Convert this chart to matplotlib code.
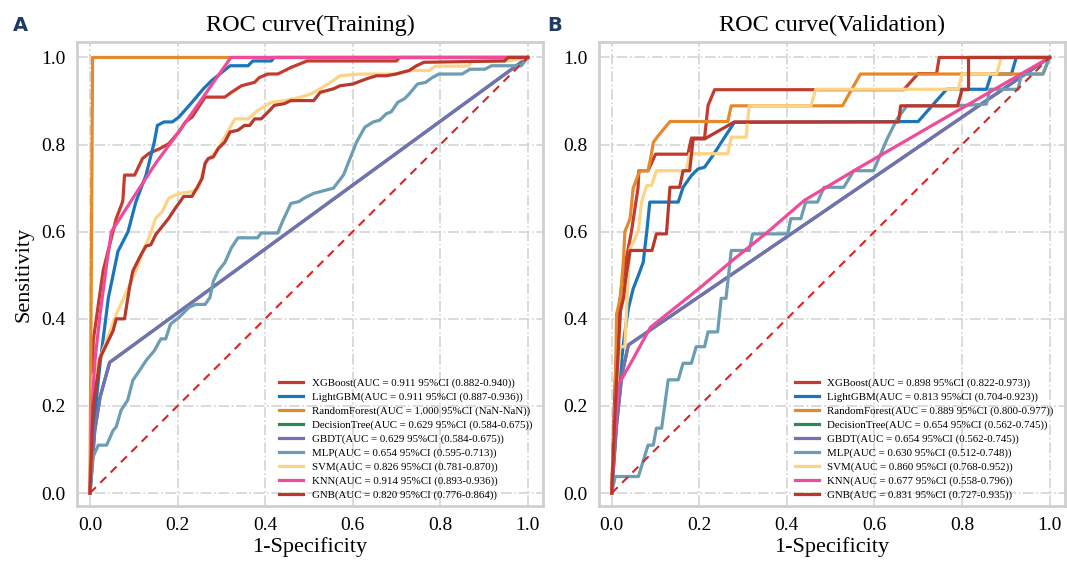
import numpy as np
import matplotlib
matplotlib.use("Agg")
import matplotlib.pyplot as plt

plt.rcParams['font.family'] = ['Liberation Serif', 'DejaVu Serif']

# ================= DATA =================

models = ["XGBoost", "LightGBM", "RandomForest", "DecisionTree", "GBDT",
          "MLP", "SVM", "KNN", "GNB"]
colors = ["#c43c2f", "#1a75bb", "#e58a2b", "#2a8a4f", "#7570b3",
          "#6b9db3", "#fdd385", "#ee4c9a", "#b8392b"]

train_auc = ["0.911 95%CI (0.882-0.940)", "0.911 95%CI (0.887-0.936)",
             "1.000 95%CI (NaN-NaN)", "0.629 95%CI (0.584-0.675)",
             "0.629 95%CI (0.584-0.675)", "0.654 95%CI (0.595-0.713)",
             "0.826 95%CI (0.781-0.870)", "0.914 95%CI (0.893-0.936)",
             "0.820 95%CI (0.776-0.864)"]
val_auc = ["0.898 95%CI (0.822-0.973)", "0.813 95%CI (0.704-0.923)",
           "0.889 95%CI (0.800-0.977)", "0.654 95%CI (0.562-0.745)",
           "0.654 95%CI (0.562-0.745)", "0.630 95%CI (0.512-0.748)",
           "0.860 95%CI (0.768-0.952)", "0.677 95%CI (0.558-0.796)",
           "0.831 95%CI (0.727-0.935)"]

# ---- training curves (fpr, tpr) ----
tr_xgb_x = [0, 0.0075, 0.03, 0.06, 0.075, 0.079, 0.102, 0.12, 0.135, 0.158, 0.18, 0.203, 0.218,
            0.233, 0.263, 0.308, 0.323, 0.346, 0.376, 0.387, 0.406, 0.429, 0.459, 0.496, 0.70, 0.707, 1]
tr_xgb_y = [0, 0.35, 0.51, 0.63, 0.67, 0.73, 0.73, 0.768, 0.78, 0.79, 0.802, 0.829, 0.852,
            0.863, 0.909, 0.909, 0.92, 0.935, 0.943, 0.954, 0.962, 0.962, 0.977, 0.992, 0.992, 1, 1]

tr_lgb_x = [0, 0.0075, 0.023, 0.042, 0.064, 0.087, 0.105, 0.128, 0.147, 0.154, 0.169, 0.188, 0.203,
            0.233, 0.259, 0.278, 0.32, 0.361, 0.372, 0.414, 0.421, 1]
tr_lgb_y = [0, 0.144, 0.297, 0.448, 0.555, 0.60, 0.669, 0.73, 0.806, 0.844, 0.852, 0.852, 0.863,
            0.897, 0.928, 0.947, 0.981, 0.981, 0.992, 0.992, 1, 1]

tr_rf_x = [0, 0.006, 1]
tr_rf_y = [0, 1, 1]

tr_dt_x = [0, 0.011, 0.023, 0.045, 1]
tr_dt_y = [0, 0.144, 0.22, 0.30, 1]

tr_gbdt_x = [0, 0.011, 0.023, 0.045, 1]
tr_gbdt_y = [0, 0.144, 0.22, 0.30, 1]

tr_mlp_x = [0, 0.0075, 0.019, 0.038, 0.053, 0.06, 0.071, 0.086, 0.098, 0.113, 0.128, 0.147, 0.162,
            0.173, 0.184, 0.203, 0.226, 0.241, 0.263, 0.274, 0.282, 0.293, 0.308, 0.323, 0.338,
            0.383, 0.391, 0.429, 0.44, 0.459, 0.477, 0.489, 0.511, 0.556, 0.579, 0.594, 0.609,
            0.628, 0.647, 0.662, 0.677, 0.688, 0.703, 0.718, 0.729, 0.748, 0.767, 0.782, 0.797,
            0.85, 0.868, 0.902, 0.917, 0.985, 1]
tr_mlp_y = [0, 0.084, 0.11, 0.11, 0.144, 0.152, 0.19, 0.213, 0.259, 0.281, 0.304, 0.327, 0.354,
            0.354, 0.388, 0.403, 0.426, 0.433, 0.433, 0.449, 0.487, 0.51, 0.529, 0.563, 0.586,
            0.586, 0.597, 0.597, 0.624, 0.665, 0.669, 0.677, 0.688, 0.70, 0.73, 0.768, 0.806,
            0.84, 0.852, 0.856, 0.871, 0.875, 0.897, 0.905, 0.916, 0.939, 0.943, 0.954, 0.962,
            0.962, 0.973, 0.973, 0.981, 0.981, 1]

tr_svm_x = [0, 0.0075, 0.038, 0.06, 0.105, 0.124, 0.135, 0.15, 0.165, 0.18, 0.203, 0.233, 0.248,
            0.263, 0.293, 0.331, 0.361, 0.383, 0.414, 0.444, 0.481, 0.504, 0.519, 0.556, 0.571,
            0.617, 0.699, 0.729, 0.774, 0.789, 0.865, 0.872, 0.955, 1]
tr_svm_y = [0, 0.27, 0.35, 0.41, 0.51, 0.563, 0.586, 0.631, 0.646, 0.677, 0.688, 0.692, 0.70,
            0.757, 0.791, 0.859, 0.859, 0.878, 0.897, 0.901, 0.909, 0.916, 0.924, 0.947, 0.958,
            0.962, 0.962, 0.97, 0.97, 0.98, 0.98, 0.992, 0.992, 1]

tr_knn_x = [0, 0.005, 0.011, 0.023, 0.038, 0.049, 0.1, 0.15, 0.2, 0.322, 1]
tr_knn_y = [0, 0.2, 0.30, 0.41, 0.524, 0.60, 0.68, 0.757, 0.825, 1, 1]

tr_gnb_x = [0, 0.0075, 0.023, 0.053, 0.06, 0.079, 0.09, 0.098, 0.117, 0.128, 0.139, 0.15, 0.165,
            0.18, 0.195, 0.203, 0.214, 0.233, 0.244, 0.256, 0.263, 0.27, 0.282, 0.293, 0.308,
            0.32, 0.338, 0.353, 0.365, 0.376, 0.391, 0.41, 0.421, 0.444, 0.459, 0.511, 0.526,
            0.556, 0.571, 0.60, 0.632, 0.654, 0.677, 0.699, 0.729, 0.744, 0.763, 0.947, 0.955, 1]
tr_gnb_y = [0, 0.198, 0.31, 0.373, 0.40, 0.40, 0.47, 0.51, 0.548, 0.567, 0.57, 0.593, 0.612,
            0.631, 0.654, 0.665, 0.681, 0.681, 0.70, 0.722, 0.757, 0.768, 0.772, 0.791, 0.806,
            0.829, 0.833, 0.844, 0.844, 0.859, 0.859, 0.878, 0.89, 0.894, 0.901, 0.901, 0.92,
            0.928, 0.935, 0.939, 0.951, 0.958, 0.958, 0.962, 0.97, 0.98, 0.989, 0.992, 1, 1]

# ---- validation curves (fpr, tpr) ----
va_xgb_x = [0, 0.008, 0.015, 0.023, 0.03, 0.045, 0.06, 0.062, 0.083, 0.1, 0.174, 0.182, 0.212,
            0.22, 0.235, 0.667, 0.70, 0.742, 0.748, 1]
va_xgb_y = [0, 0.26, 0.41, 0.48, 0.52, 0.60, 0.70, 0.74, 0.74, 0.778, 0.778, 0.815, 0.815,
            0.89, 0.926, 0.926, 0.963, 0.963, 1, 1]

va_lgb_x = [0, 0.011, 0.027, 0.038, 0.049, 0.061, 0.072, 0.08, 0.087, 0.152, 0.163, 0.182,
            0.197, 0.212, 0.231, 0.258, 0.28, 0.70, 0.735, 0.765, 0.856, 0.867, 0.913, 0.924, 1]
va_lgb_y = [0, 0.195, 0.347, 0.424, 0.469, 0.50, 0.53, 0.60, 0.668, 0.668, 0.702, 0.729,
            0.744, 0.748, 0.775, 0.817, 0.851, 0.853, 0.893, 0.927, 0.927, 0.962, 0.962, 1, 1]

va_rf_x = [0, 0.008, 0.011, 0.02, 0.027, 0.03, 0.042, 0.049, 0.064, 0.083, 0.09, 0.095, 0.106,
           0.133, 0.265, 0.273, 0.527, 0.568, 0.985, 1]
va_rf_y = [0, 0.2, 0.41, 0.45, 0.538, 0.60, 0.63, 0.70, 0.74, 0.74, 0.775, 0.805, 0.82,
           0.853, 0.853, 0.889, 0.889, 0.962, 0.962, 1]

va_dt_x = [0, 0.011, 0.023, 0.038, 1]
va_dt_y = [0, 0.156, 0.27, 0.34, 1]

va_gbdt_x = [0, 0.011, 0.023, 0.038, 1]
va_gbdt_y = [0, 0.156, 0.27, 0.34, 1]

va_mlp_x = [0, 0.008, 0.061, 0.083, 0.095, 0.102, 0.114, 0.129, 0.152, 0.163, 0.182, 0.193,
            0.212, 0.22, 0.242, 0.25, 0.261, 0.273, 0.314, 0.322, 0.402, 0.409, 0.432, 0.443,
            0.47, 0.485, 0.53, 0.553, 0.598, 0.629, 0.652, 0.674, 0.788, 0.856, 0.864, 0.928,
            0.936, 0.985, 1]
va_mlp_y = [0, 0.038, 0.038, 0.11, 0.11, 0.149, 0.149, 0.26, 0.26, 0.298, 0.298, 0.336,
            0.336, 0.37, 0.37, 0.447, 0.447, 0.557, 0.557, 0.595, 0.595, 0.63, 0.63, 0.668,
            0.668, 0.702, 0.702, 0.74, 0.74, 0.813, 0.859, 0.889, 0.889, 0.893, 0.927, 0.927,
            0.962, 0.962, 1]

va_svm_x = [0, 0.008, 0.019, 0.03, 0.038, 0.042, 0.061, 0.068, 0.08, 0.091, 0.102, 0.17,
            0.178, 0.265, 0.273, 0.307, 0.314, 0.455, 0.466, 0.792, 0.80, 0.879, 0.89, 1]
va_svm_y = [0, 0.2, 0.336, 0.336, 0.508, 0.561, 0.603, 0.668, 0.706, 0.706, 0.74, 0.74,
            0.779, 0.779, 0.817, 0.817, 0.889, 0.889, 0.927, 0.927, 0.962, 0.962, 1, 1]

va_knn_x = [0, 0.008, 0.016, 0.05, 0.088, 0.2, 0.273, 0.357, 0.44, 0.56, 1]
va_knn_y = [0, 0.15, 0.25, 0.31, 0.38, 0.47, 0.532, 0.60, 0.672, 0.744, 1]

va_gnb_x = [0, 0.008, 0.02, 0.027, 0.031, 0.042, 0.092, 0.102, 0.125, 0.133, 0.155, 0.163,
            0.178, 0.186, 0.212, 0.28, 0.655, 0.66, 0.79, 0.80, 0.815, 0.815, 1]
va_gnb_y = [0, 0.2, 0.418, 0.448, 0.486, 0.557, 0.557, 0.595, 0.595, 0.702, 0.702, 0.74,
            0.74, 0.813, 0.813, 0.852, 0.852, 0.889, 0.889, 0.926, 0.926, 1, 1]

train_curves = [(tr_xgb_x, tr_xgb_y), (tr_lgb_x, tr_lgb_y), (tr_rf_x, tr_rf_y),
                (tr_dt_x, tr_dt_y), (tr_gbdt_x, tr_gbdt_y), (tr_mlp_x, tr_mlp_y),
                (tr_svm_x, tr_svm_y), (tr_knn_x, tr_knn_y), (tr_gnb_x, tr_gnb_y)]
val_curves = [(va_xgb_x, va_xgb_y), (va_lgb_x, va_lgb_y), (va_rf_x, va_rf_y),
              (va_dt_x, va_dt_y), (va_gbdt_x, va_gbdt_y), (va_mlp_x, va_mlp_y),
              (va_svm_x, va_svm_y), (va_knn_x, va_knn_y), (va_gnb_x, va_gnb_y)]

ticks = [0.0, 0.2, 0.4, 0.6, 0.8, 1.0]


# ================= PLOT =================

def panel(ax, curves, aucs, title, ylabel):
    for name, col, (fx, ty), auc in zip(models, colors, curves, aucs):
        ax.plot(fx, ty, color=col, lw=2.3,
                label=f"{name}(AUC = {auc})")
    ax.plot([0, 1], [0, 1], color="#dd2222", lw=1.5, ls=(0, (4, 3)))

    ax.set_xlim(-0.03, 1.035)
    ax.set_ylim(-0.03, 1.035)
    ax.set_xticks(ticks)
    ax.set_yticks(ticks)
    ax.tick_params(labelsize=14, length=0, pad=8)
    ax.grid(True, color="#d4d4d4", ls="-.", lw=1.2)
    for s in ax.spines.values():
        s.set_color("#cfcfcf")
        s.set_linewidth(2)
    ax.set_title(title, fontsize=17.5, pad=8)
    ax.set_xlabel("1-Specificity", fontsize=16, labelpad=2)
    if ylabel:
        ax.set_ylabel(ylabel, fontsize=16, labelpad=6)

    ax.legend(loc="lower right", fontsize=7.8, frameon=False,
              borderaxespad=0.2, handlelength=2.2, labelspacing=0.38,
              bbox_to_anchor=(0.99, 0.0))


fig = plt.figure(figsize=(10.67, 5.63), dpi=100)
ax1 = fig.add_axes([0.072, 0.101, 0.437, 0.824])
ax2 = fig.add_axes([0.561, 0.101, 0.437, 0.824])

panel(ax1, train_curves, train_auc, "ROC curve(Training)", "Sensitivity")
panel(ax2, val_curves, val_auc, "ROC curve(Validation)", None)

fig.text(0.012, 0.945, "A", fontsize=14, fontweight="bold",
         family="DejaVu Sans", color="#1f3a66")
fig.text(0.513, 0.945, "B", fontsize=14, fontweight="bold",
         family="DejaVu Sans", color="#1f3a66")

fig.savefig("out.png", dpi=100)
